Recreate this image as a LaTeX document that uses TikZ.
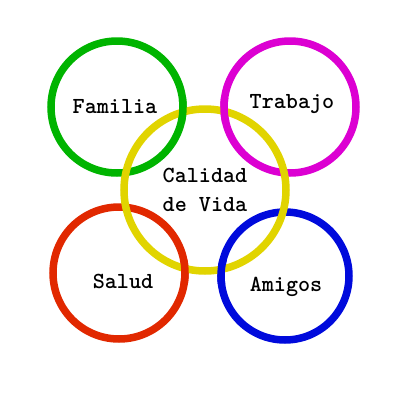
\documentclass[tikz,border=0pt]{standalone}
\definecolor{cgreen}{RGB}{0,180,0}
\definecolor{cmag}{RGB}{220,0,210}
\definecolor{cyel}{RGB}{225,212,0}
\definecolor{cred}{RGB}{225,40,0}
\definecolor{cblue}{RGB}{0,10,220}
\begin{document}
\begin{tikzpicture}[x=1pt,y=-1pt,
  ring/.style={line width=7.5pt},
  lbl/.style={font=\fontsize{23}{29}\selectfont\ttfamily\bfseries, inner sep=0pt, align=left}]
\useasboundingbox (0,0) rectangle (400,400);
\coordinate (cg) at (117,107);
\coordinate (cm) at (290,107);
\coordinate (cy) at (205,190);
\coordinate (cr) at (119,273);
\coordinate (cb) at (285,276);
\draw[ring,cgreen] (cg) circle (66);
\draw[ring,cmag] (cm) circle (66);
\draw[ring,cred] (cr) circle (66);
\draw[ring,cblue] (cb) circle (64);
\draw[ring,cyel] (cy) circle (81);
\begin{scope}\clip (186,110) circle (13); \draw[ring,cgreen] (cg) circle (66);\end{scope}
\begin{scope}\clip (223,110) circle (13); \draw[ring,cmag] (cm) circle (66);\end{scope}
\begin{scope}\clip (185,272) circle (13); \draw[ring,cred] (cr) circle (66);\end{scope}
\begin{scope}\clip (222,272) circle (13); \draw[ring,cblue] (cb) circle (64);\end{scope}
\node[lbl] (familia) at (115,107) {Familia};
\node[lbl] (trabajo) at (292,104) {Trabajo};
\node[lbl] (calidad) at (205,190) {Calidad\\de Vida};
\node[lbl] (salud) at (123,281) {Salud};
\node[lbl] (amigos) at (286,287) {Amigos};
\end{tikzpicture}
\end{document}
